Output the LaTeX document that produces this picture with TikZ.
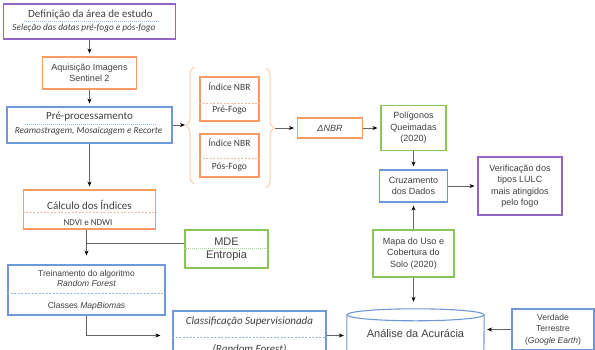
\documentclass[tikz,border=0pt]{standalone}
\usepackage{fontspec}
\setmainfont{Liberation Sans}
\newfontfamily\calibri{Carlito}
\usetikzlibrary{arrows.meta,decorations.pathreplacing}
\definecolor{cpurple}{RGB}{150,100,200}
\definecolor{corange}{RGB}{244,156,100}
\definecolor{cblue}{RGB}{112,152,214}
\definecolor{cgreen}{RGB}{140,196,92}
\definecolor{clightblue}{RGB}{150,185,230}
\definecolor{bracecol}{RGB}{248,204,170}
\definecolor{txtgray}{RGB}{64,64,64}
\definecolor{linegray}{RGB}{100,100,100}
\begin{document}
\begin{tikzpicture}
[x=1pt,y=-1pt,
  box/.style={draw=#1,line width=1.1pt,fill=white,inner sep=0pt,text=txtgray,align=center,
    font=\fontsize{9}{11.5}\selectfont},
  cal/.style={text=txtgray,inner sep=0pt,align=center,font=\calibri\fontsize{#1}{#1}\selectfont},
  sep/.style={draw=#1,dash pattern=on 2pt off 1.5pt,line width=0.6pt},
  joindecorate/.style={draw=linegray,line width=0.7pt},
  arrowdecorate/.style={joindecorate,shorten >=3pt,-{Stealth[length=5pt,width=4pt,black]}},
  bracedecorate/.style={draw=bracecol,line width=1pt,decorate,decoration={brace,amplitude=8pt}}]
\useasboundingbox (0,0) rectangle (595,349);
%% left column
\node[box=cpurple,minimum width=172pt,minimum height=35pt] (defin) at (89.5,21.5) {};
\node[cal=11] (defin-t) at (90.5,15) {Definição da área de estudo};
\node[cal=9.3] (defin-s) at (84,28) {\itshape Seleção das datas pré-fogo e pós-fogo};
\draw[sep=clightblue,dash pattern=on 1pt off 1pt] (24,21) -- (160,21);
\node[box=corange,minimum width=94pt,minimum height=32pt] (aquis) at (89.5,73)
  {Aquisição Imagens\\Sentinel 2};
\node[box=cblue,minimum width=165pt,minimum height=36pt] (preproc) at (89.5,125) {};
\node[cal=11] (preproc-t) at (89.5,117) {Pré-processamento};
\node[cal=9.3] (preproc-s) at (88.5,131) {\itshape Reamostragem, Mosaicagem e Recorte};
\draw[sep=clightblue,dash pattern=on 1pt off 1pt] (25,124) -- (157,124);
\node[box=corange,minimum width=132pt,minimum height=39pt] (calc) at (89.5,209.5) {};
\node[cal=11] (calc-t) at (89.5,205) {Cálculo dos Índices};
\node[cal=9] (calc-s) at (88,223) {NDVI e NDWI};
\draw[sep=corange!70] (calc.west |- 0,212) -- (calc.east |- 0,212);
\node[box=cgreen,minimum width=83pt,minimum height=38pt] (mde) at (226.5,249) {};
\node[box=white,draw=none,fill=none,font=\fontsize{11}{11}\selectfont] (mde-t) at (226.5,242) {MDE};
\node[box=white,draw=none,fill=none,font=\fontsize{11}{11}\selectfont] (mde-s) at (226.5,256) {Entropia};
\draw[sep=cgreen!70,dash pattern=on 1pt off 1pt] (mde.west |- 0,248.5) -- (mde.east |- 0,248.5);
\node[box=cblue,minimum width=157pt,minimum height=50pt] (trein) at (86.5,290) {};
\node[box=white,draw=none,fill=none,font=\fontsize{8.5}{10}\selectfont] (trein-t) at (86.5,278)
  {Treinamento do algoritmo\\\textit{Random Forest}};
\node[box=white,draw=none,fill=none,font=\fontsize{8.5}{10}\selectfont] (trein-s) at (86.5,306)
  {Classes \textit{MapBiomas}};
\draw[sep=clightblue] (trein.west |- 0,293) -- (trein.east |- 0,293);
\node[box=cblue,minimum width=153pt,minimum height=49pt] (classif) at (249.5,335.5) {};
\node[cal=11] (classif-t) at (249.5,322) {\itshape Classificação Supervisionada};
\node[cal=11] (classif-s) at (249.5,349) {\itshape (Random Forest)};
\draw[sep=clightblue] (classif.west |- 0,337) -- (classif.east |- 0,337);
%% NBR indices and braces
\node[box=corange,minimum width=59pt,minimum height=44pt] (nbrpre) at (229.5,99) {};
\node[cal=9.5] (nbrpre-t) at (229.5,87) {Índice NBR};
\node[cal=9.5] (nbrpre-s) at (229.5,110) {Pré-Fogo};
\draw[sep=corange!70] (nbrpre.west |- 0,103) -- (nbrpre.east |- 0,103);
\node[box=corange,minimum width=59pt,minimum height=43pt] (nbrpos) at (229.5,155.5) {};
\node[cal=9.5] (nbrpos-t) at (229.5,143) {Índice NBR};
\node[cal=9.5] (nbrpos-s) at (229.5,167) {Pós-Fogo};
\draw[sep=corange!70] (nbrpos.west |- 0,158) -- (nbrpos.east |- 0,158);
\draw[bracedecorate] (194,184) -- (194,67);
\draw[bracedecorate] (266,68) -- (266,188);
\coordinate (lbrace) at (188,125);
\coordinate (rbrace) at (275,128);
\node[box=corange,minimum width=65pt,minimum height=20pt] (dnbr) at (330,128)
  {\itshape ΔNBR};
%% right column
\node[box=cgreen,minimum width=65pt,minimum height=45pt] (polig) at (413.5,128)
  {Polígonos\\Queimadas\\(2020)};
\node[box=cblue,minimum width=68pt,minimum height=32pt] (cruz) at (413.5,186)
  {Cruzamento\\dos Dados};
\node[box=cpurple,minimum width=84pt,minimum height=58pt] (verif) at (520,186)
  {Verificação dos\\tipos LULC\\mais atingidos\\pelo fogo};
\node[box=cgreen,minimum width=81pt,minimum height=47pt] (mapa) at (413.5,253.5)
  {Mapa do Uso e\\Cobertura do\\Solo (2020)};
\node[inner sep=0pt,minimum width=137pt,minimum height=51pt,text=txtgray,
  font=\fontsize{11}{11}\selectfont] (analise) at (415.5,334.5) {\raisebox{1.5pt}{Análise da Acurácia}};
\draw[draw=cblue,line width=1.1pt] ([yshift=-6pt]analise.north west) -- (analise.south west)
  arc[start angle=180,end angle=360,x radius=68.5pt,y radius=6pt]
  -- ([yshift=-6pt]analise.north east);
\draw[draw=cblue,line width=1.1pt] ([yshift=-6pt]analise.north) ellipse[x radius=68.5pt,y radius=6pt];
\node[box=cblue,minimum width=82pt,minimum height=41pt,font=\fontsize{8.5}{11.5}\selectfont]
  (verdade) at (553,329.5) {Verdade\\Terrestre\\(\textit{Google Earth})};
%% edges or lines
\path
\foreach \startnode/\endnode in {defin/aquis, aquis/preproc, preproc/calc, preproc/lbrace,
  rbrace/dnbr, dnbr/polig, polig/cruz, cruz/verif, mapa/cruz} {
  (\startnode) edge[arrowdecorate] (\endnode)
};
\draw[joindecorate] (mde.west |- 0,243) -- (trein.north |- 0,243);
\draw[arrowdecorate,shorten >=9pt] (trein.north |- calc.south) -- (trein);
\draw[arrowdecorate,shorten >=12pt] (trein) |- (classif);
\draw[arrowdecorate] (classif.east) -- (classif.east -| analise.west);
\draw[arrowdecorate] (verdade.west) -- (verdade.west -| analise.east);
\draw[arrowdecorate,shorten >=7pt] (mapa.south) -- (mapa.south |- analise.north);
\end{tikzpicture}
\end{document}
